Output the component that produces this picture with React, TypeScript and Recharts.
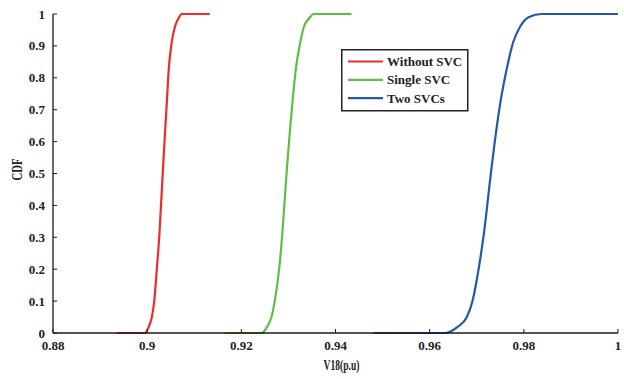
import React from "react";
import { LineChart, Line, XAxis, YAxis, Legend } from "recharts";

// Bus 18 voltage CDF under three compensation cases
const withoutSvcX = [0.8936, 0.8995, 0.9006, 0.9010, 0.9015, 0.9021, 0.9026, 0.9033, 0.9038, 0.9042, 0.9046, 0.9052, 0.9059, 0.9068, 0.9073, 0.9133];
const withoutSvcY = [0, 0, 0.03, 0.05, 0.10, 0.21, 0.31, 0.50, 0.63, 0.73, 0.83, 0.91, 0.96, 0.99, 1, 1];

const singleSvcX = [0.9165, 0.9243, 0.9255, 0.9264, 0.9271, 0.9281, 0.9287, 0.9296, 0.9303, 0.9309, 0.9316, 0.9325, 0.9333, 0.9346, 0.9353, 0.9434];
const singleSvcY = [0, 0, 0.02, 0.05, 0.10, 0.21, 0.31, 0.50, 0.63, 0.73, 0.83, 0.91, 0.96, 0.99, 1, 1];

const twoSvcsX = [0.9480, 0.9633, 0.9660, 0.9679, 0.9691, 0.9705, 0.9715, 0.9730, 0.9741, 0.9751, 0.9764, 0.9777, 0.9792, 0.9810, 0.9838, 1.0];
const twoSvcsY = [0, 0, 0.02, 0.05, 0.10, 0.21, 0.31, 0.50, 0.63, 0.73, 0.83, 0.91, 0.96, 0.99, 1, 1];

const xTicks = [0.88, 0.9, 0.92, 0.94, 0.96, 0.98, 1];
const xTickLabels = ["0.88", "0.9", "0.92", "0.94", "0.96", "0.98", "1"];
const yTicks = [0, 0.1, 0.2, 0.3, 0.4, 0.5, 0.6, 0.7, 0.8, 0.9, 1];
const yTickLabels = ["0", "0.1", "0.2", "0.3", "0.4", "0.5", "0.6", "0.7", "0.8", "0.9", "1"];

const seriesNames = ["Without SVC", "Single SVC", "Two SVCs"];
const seriesColors = ["#EE2B2B", "#5FBE43", "#2658A8"];

const zip = (xs: number[], ys: number[]) => xs.map((x, i) => ({ x, y: ys[i] }));
const seriesData = [
  zip(withoutSvcX, withoutSvcY),
  zip(singleSvcX, singleSvcY),
  zip(twoSvcsX, twoSvcsY),
];

const FONT = '"Liberation Serif", "Times New Roman", serif';
const GAP = 8;
const TICK_LEN = 4;
const AXIS_COLOR = "#1a1a1a";

const BottomTick = (props: any) => {
  const { x, y, index } = props;
  const axisY = y - GAP;
  return (
    <g>
      <line x1={x} x2={x} y1={axisY} y2={axisY - TICK_LEN} stroke={AXIS_COLOR} strokeWidth={1} />
      <text x={x} y={y} dy="0.71em" textAnchor="middle" fontFamily={FONT} fontWeight="bold" fontSize={13} fill="#222">
        {xTickLabels[index]}
      </text>
    </g>
  );
};

const LeftTick = (props: any) => {
  const { x, y, index } = props;
  const axisX = x + GAP;
  return (
    <g>
      <line x1={axisX} x2={axisX + TICK_LEN} y1={y} y2={y} stroke={AXIS_COLOR} strokeWidth={1} />
      <text x={x} y={y} dy="0.35em" textAnchor="end" fontFamily={FONT} fontWeight="bold" fontSize={13} fill="#222">
        {yTickLabels[index]}
      </text>
    </g>
  );
};

const TopTick = (props: any) => {
  const { x, y } = props;
  return <line x1={x} x2={x} y1={y} y2={y + TICK_LEN} stroke={AXIS_COLOR} strokeWidth={1} />;
};

const RightTick = (props: any) => {
  const { x, y } = props;
  return <line x1={x} x2={x - TICK_LEN} y1={y} y2={y} stroke={AXIS_COLOR} strokeWidth={1} />;
};

const LegendBox = () => (
  <svg width={128} height={63} style={{ display: "block" }}>
    <rect x={0.75} y={0.75} width={126} height={61} fill="#fff" stroke="#222" strokeWidth={1.5} />
    {seriesNames.map((name, i) => (
      <g key={name}>
        <line x1={7} x2={42} y1={12.5 + i * 18.3} y2={12.5 + i * 18.3} stroke={seriesColors[i]} strokeWidth={2.2} />
        <text x={46} y={12.5 + i * 18.3} dy="0.35em" fontFamily={FONT} fontWeight="bold" fontSize={13} fill="#222">
          {name}
        </text>
      </g>
    ))}
  </svg>
);

export default function App() {
  return (
    <div style={{ position: "absolute", left: 0, top: 0, background: "#fff" }}>
      <LineChart width={624} height={379} margin={{ top: 14, right: 6, bottom: 0, left: 0 }}>
        <XAxis
          dataKey="x"
          type="number"
          domain={[0.88, 1]}
          ticks={xTicks}
          allowDataOverflow
          height={46}
          tickSize={0}
          tickMargin={GAP}
          tick={<BottomTick />}
          axisLine={{ stroke: AXIS_COLOR, strokeWidth: 1.3 }}
          interval={0}
          label={{
            value: "V18(p.u)",
            position: "insideBottom",
            offset: 9,
            dx: 6,
            fontFamily: FONT,
            fontWeight: "bold",
            fontSize: 14,
            fill: "#222",
            textLength: 36,
            lengthAdjust: "spacingAndGlyphs",
          }}
        />
        <XAxis
          xAxisId="top"
          orientation="top"
          dataKey="x"
          type="number"
          domain={[0.88, 1]}
          ticks={xTicks}
          height={0}
          tickSize={0}
          tickMargin={0}
          tick={<TopTick />}
          axisLine={{ stroke: AXIS_COLOR, strokeWidth: 1.3 }}
          interval={0}
        />
        <YAxis
          type="number"
          domain={[0, 1]}
          ticks={yTicks}
          width={53}
          tickSize={0}
          tickMargin={GAP}
          tick={<LeftTick />}
          axisLine={{ stroke: AXIS_COLOR, strokeWidth: 1.3 }}
          interval={0}
          label={{
            value: "CDF",
            angle: -90,
            position: "insideLeft",
            offset: 17,
            fontFamily: FONT,
            fontWeight: "bold",
            fontSize: 14,
            fill: "#222",
            textLength: 22,
            lengthAdjust: "spacingAndGlyphs",
            dy: 7,
          }}
        />
        <YAxis
          yAxisId="right"
          orientation="right"
          type="number"
          domain={[0, 1]}
          ticks={yTicks}
          width={0}
          tickSize={0}
          tickMargin={0}
          tick={<RightTick />}
          axisLine={{ stroke: AXIS_COLOR, strokeWidth: 1.3 }}
          interval={0}
        />
        <Legend
          layout="vertical"
          verticalAlign="middle"
          align="center"
          wrapperStyle={{ left: 341, top: 49, width: 128 }}
          content={() => <LegendBox />}
        />
        {seriesData.map((d, i) => (
          <Line
            key={seriesNames[i]}
            data={d}
            dataKey="y"
            name={seriesNames[i]}
            type="monotone"
            stroke={seriesColors[i]}
            strokeWidth={2.2}
            dot={false}
            activeDot={false}
            isAnimationActive={false}
          />
        ))}
      </LineChart>
    </div>
  );
}
